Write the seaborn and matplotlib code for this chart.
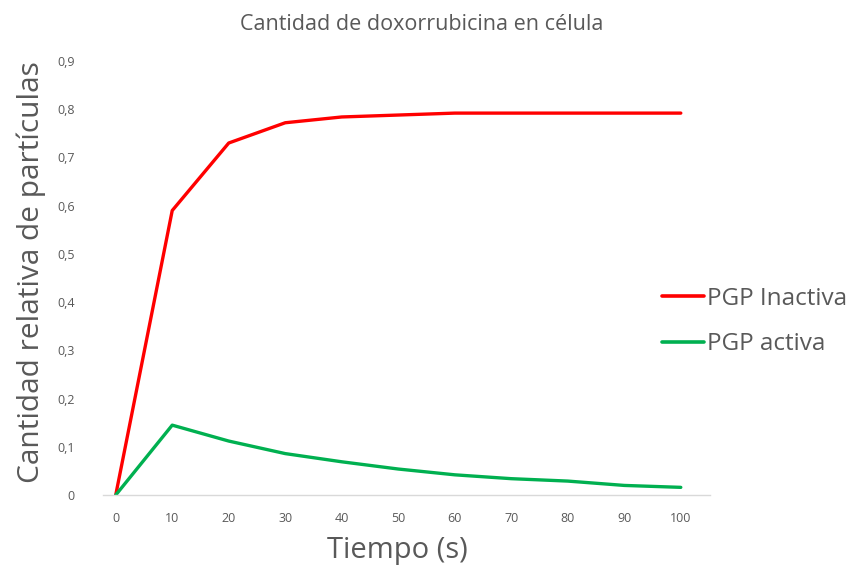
import matplotlib
matplotlib.use("Agg")
import matplotlib.pyplot as plt
from matplotlib.ticker import FuncFormatter
import pandas as pd
import seaborn as sns

# Time points (s) and relative amount of doxorubicin inside the cell
tiempo = [0, 10, 20, 30, 40, 50, 60, 70, 80, 90, 100]
pgp_inactiva = [0.0, 0.59, 0.73, 0.772, 0.784, 0.788, 0.792, 0.792, 0.792, 0.792, 0.792]
pgp_activa = [0.0, 0.145, 0.112, 0.086, 0.069, 0.054, 0.042, 0.034, 0.029, 0.020, 0.016]
series_names = ["PGP Inactiva", "PGP activa"]
series_colors = ["#FF0000", "#00B050"]

df = pd.DataFrame({
    "Tiempo": tiempo * 2,
    "Cantidad": pgp_inactiva + pgp_activa,
    "Serie": [series_names[0]] * len(tiempo) + [series_names[1]] * len(tiempo),
})

sns.set_theme(style="white")
plt.rcParams["font.family"] = ["Open Sans", "DejaVu Sans"]

fig = plt.figure(figsize=(8.56, 5.73), dpi=100)
ax = fig.add_axes([0.12, 0.136, 0.709, 0.7575])

sns.lineplot(data=df, x="Tiempo", y="Cantidad", hue="Serie",
             palette=dict(zip(series_names, series_colors)),
             linewidth=2.4, ax=ax, legend=True)

text_gray = "#595959"
ax.set_xlim(-2.3, 105.1)
ax.set_ylim(0, 0.9)
ax.set_xticks(range(0, 101, 10))
ax.set_yticks([i / 10 for i in range(10)])
ax.yaxis.set_major_formatter(FuncFormatter(
    lambda v, _: "0" if abs(v) < 1e-9 else f"{v:.1f}".replace(".", ",")))
ax.tick_params(axis="both", length=0, labelsize=9, colors=text_gray)
ax.tick_params(axis="y", pad=20)
ax.tick_params(axis="x", pad=12)

for side in ["top", "right", "left"]:
    ax.spines[side].set_visible(False)
ax.spines["bottom"].set_color("#D9D9D9")
ax.spines["bottom"].set_linewidth(1.0)

ax.set_xlabel("Tiempo (s)", fontsize=21, color=text_gray)
ax.xaxis.set_label_coords(0.486, -0.095)
ax.set_ylabel("Cantidad relativa de partículas", fontsize=21.5, color=text_gray)
ax.yaxis.set_label_coords(-0.094, 0.513)
fig.suptitle("Cantidad de doxorrubicina en célula", fontsize=15.5,
             color=text_gray, x=0.493, y=0.958, va="center")

leg = ax.legend(loc="center left", bbox_to_anchor=(0.922, 0.40), frameon=False,
                fontsize=17.5, handlelength=1.7, handletextpad=0.15,
                labelspacing=0.9, borderpad=0, borderaxespad=0)
for t in leg.get_texts():
    t.set_color(text_gray)
for line in leg.get_lines():
    line.set_linewidth(2.6)

fig.savefig("out.png", dpi=100)
